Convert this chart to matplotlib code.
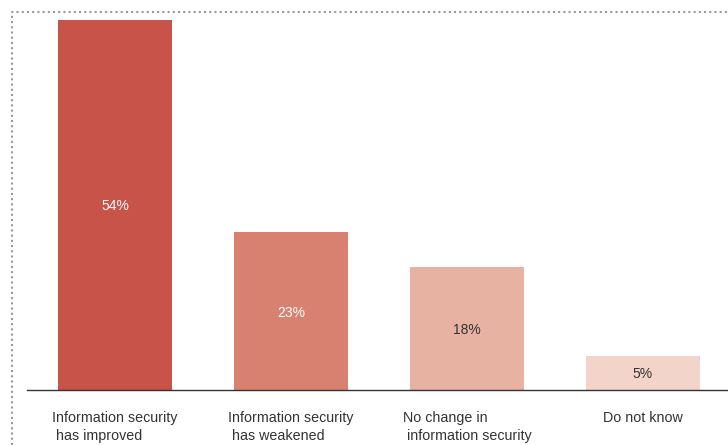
import matplotlib
matplotlib.use("Agg")
import matplotlib.pyplot as plt
from matplotlib.lines import Line2D

plt.rcParams["font.family"] = ["Liberation Sans", "DejaVu Sans"]

categories = [
    "Information security\n has improved",
    "Information security\n has weakened",
    "No change in\n information security",
    "Do not know",
]
values = [54, 23, 18, 5]
bar_colors = ["#C85349", "#D98171", "#E8B2A2", "#F3D4CA"]
value_colors = ["white", "white", "#333333", "#333333"]

W, H = 728, 445
fig = plt.figure(figsize=(W / 100, H / 100), dpi=100)

# axes placed so the baseline sits at y=390px and the tallest bar reaches y=20px
ax = fig.add_axes([27 / W, (H - 390) / H, (W - 27) / W, 370 / H])
x = list(range(len(values)))
bars = ax.bar(x, values, width=0.648, color=bar_colors, edgecolor="none")
ax.set_xlim(-0.5, 3.483)
ax.set_ylim(0, 54)

for b, v, c in zip(bars, values, value_colors):
    ax.text(b.get_x() + b.get_width() / 2, v / 2 - 0.2, f"{v}%",
            ha="center", va="center", fontsize=10, color=c)

for xi, label in zip(x, categories):
    ax.text(xi, -3.1, label, ha="center", va="top", multialignment="left",
            fontsize=10.3, color="#333333", linespacing=1.35)

for side in ["top", "right", "left"]:
    ax.spines[side].set_visible(False)
ax.spines["bottom"].set_color("#333333")
ax.spines["bottom"].set_linewidth(1.0)
ax.set_xticks([])
ax.set_yticks([])

# dotted frame on left and top edges
border = Line2D([12 / W, 12 / W, 1.0], [0.0, 1 - 12 / H, 1 - 12 / H],
                transform=fig.transFigure, color="#999999", linewidth=1.5,
                linestyle=(0, (1, 1.5)), solid_capstyle="butt")
fig.add_artist(border)

fig.savefig("out.png", dpi=100)
plt.close(fig)
